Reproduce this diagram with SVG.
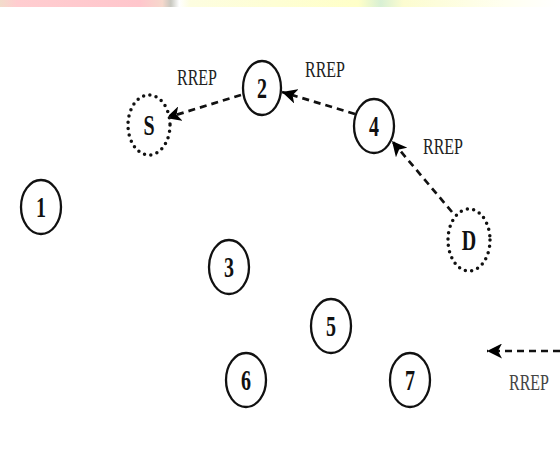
<svg xmlns="http://www.w3.org/2000/svg" width="560" height="460" viewBox="0 0 560 460">
  <defs>
    <linearGradient id="band" x1="0" y1="0" x2="1" y2="0">
      <stop offset="0" stop-color="#f2dccb"/>
      <stop offset="0.03" stop-color="#ffcdd0"/>
      <stop offset="0.25" stop-color="#ffc6cc"/>
      <stop offset="0.29" stop-color="#f6d8cc"/>
      <stop offset="0.305" stop-color="#c8c8c0"/>
      <stop offset="0.32" stop-color="#ffffff"/>
      <stop offset="0.34" stop-color="#fdfde0"/>
      <stop offset="0.64" stop-color="#ffffc8"/>
      <stop offset="0.68" stop-color="#d8f0d4"/>
      <stop offset="0.72" stop-color="#fcfcd0"/>
      <stop offset="0.90" stop-color="#fffff0"/>
      <stop offset="1" stop-color="#ffffff"/>
    </linearGradient>
    <marker id="ah" markerUnits="userSpaceOnUse" markerWidth="17" markerHeight="15" refX="15" refY="7.5" orient="auto">
      <path d="M0,0 L15,7.5 L0,15 L4,7.5 Z" fill="#000"/>
    </marker>
    <style>
      .solid{fill:#fff;stroke:#111;stroke-width:2.3}
      .dotted{fill:#fff;stroke:#111;stroke-width:3.5;stroke-dasharray:0 6.4;stroke-linecap:round}
      .num{font-family:"Liberation Serif","Times New Roman",serif;font-size:20px;font-weight:bold;fill:#111;text-anchor:middle}
      .lab{font-family:"Liberation Serif","Times New Roman",serif;font-size:16px;fill:#222;text-anchor:middle}
      .edge{fill:none;stroke:#111;stroke-width:2.7;stroke-dasharray:7 5;marker-end:url(#ah)}
    </style>
  </defs>
  <rect x="0" y="0" width="560" height="460" fill="#fff"/>
  <rect x="0" y="0" width="560" height="7" fill="url(#band)"/>

  <g id="connectors">
    <line class="edge" x1="241" y1="95" x2="166" y2="118"/>
    <line class="edge" x1="355" y1="114" x2="282" y2="92"/>
    <line class="edge" x1="452" y1="212" x2="392" y2="141"/>
    <line class="edge" x1="560" y1="351" x2="487" y2="351"/>
    <text class="lab" transform="translate(197,85) scale(1,1.4)">RREP</text>
    <text class="lab" transform="translate(325,77) scale(1,1.4)">RREP</text>
    <text class="lab" transform="translate(443,154) scale(1,1.4)">RREP</text>
    <text class="lab" transform="translate(529,390) scale(1,1.4)" style="fill:#444">RREP</text>
  </g>

  <g id="node-S"><ellipse class="dotted" cx="149" cy="125" rx="21" ry="30"/><text class="num" transform="translate(149,125) scale(1,1.45)" y="6.6">S</text></g>
  <g id="node-2"><ellipse class="solid" cx="262" cy="88" rx="19" ry="27"/><text class="num" transform="translate(262,88) scale(1,1.45)" y="6.6">2</text></g>
  <g id="node-4"><ellipse class="solid" cx="374" cy="126" rx="20" ry="27"/><text class="num" transform="translate(374,126) scale(1,1.45)" y="6.6">4</text></g>
  <g id="node-D"><ellipse class="dotted" cx="469" cy="240" rx="21" ry="31"/><text class="num" transform="translate(469,240) scale(1,1.45)" y="6.6">D</text></g>
  <g id="node-1"><ellipse class="solid" cx="41" cy="207" rx="20" ry="27"/><text class="num" transform="translate(41,207) scale(1,1.45)" y="6.6">1</text></g>
  <g id="node-3"><ellipse class="solid" cx="229" cy="267" rx="20" ry="27"/><text class="num" transform="translate(229,267) scale(1,1.45)" y="6.6">3</text></g>
  <g id="node-5"><ellipse class="solid" cx="331" cy="326" rx="20" ry="27"/><text class="num" transform="translate(331,326) scale(1,1.45)" y="6.6">5</text></g>
  <g id="node-6"><ellipse class="solid" cx="246" cy="380" rx="20" ry="27"/><text class="num" transform="translate(246,380) scale(1,1.45)" y="6.6">6</text></g>
  <g id="node-7"><ellipse class="solid" cx="410" cy="380" rx="20" ry="27"/><text class="num" transform="translate(410,380) scale(1,1.45)" y="6.6">7</text></g>
</svg>
